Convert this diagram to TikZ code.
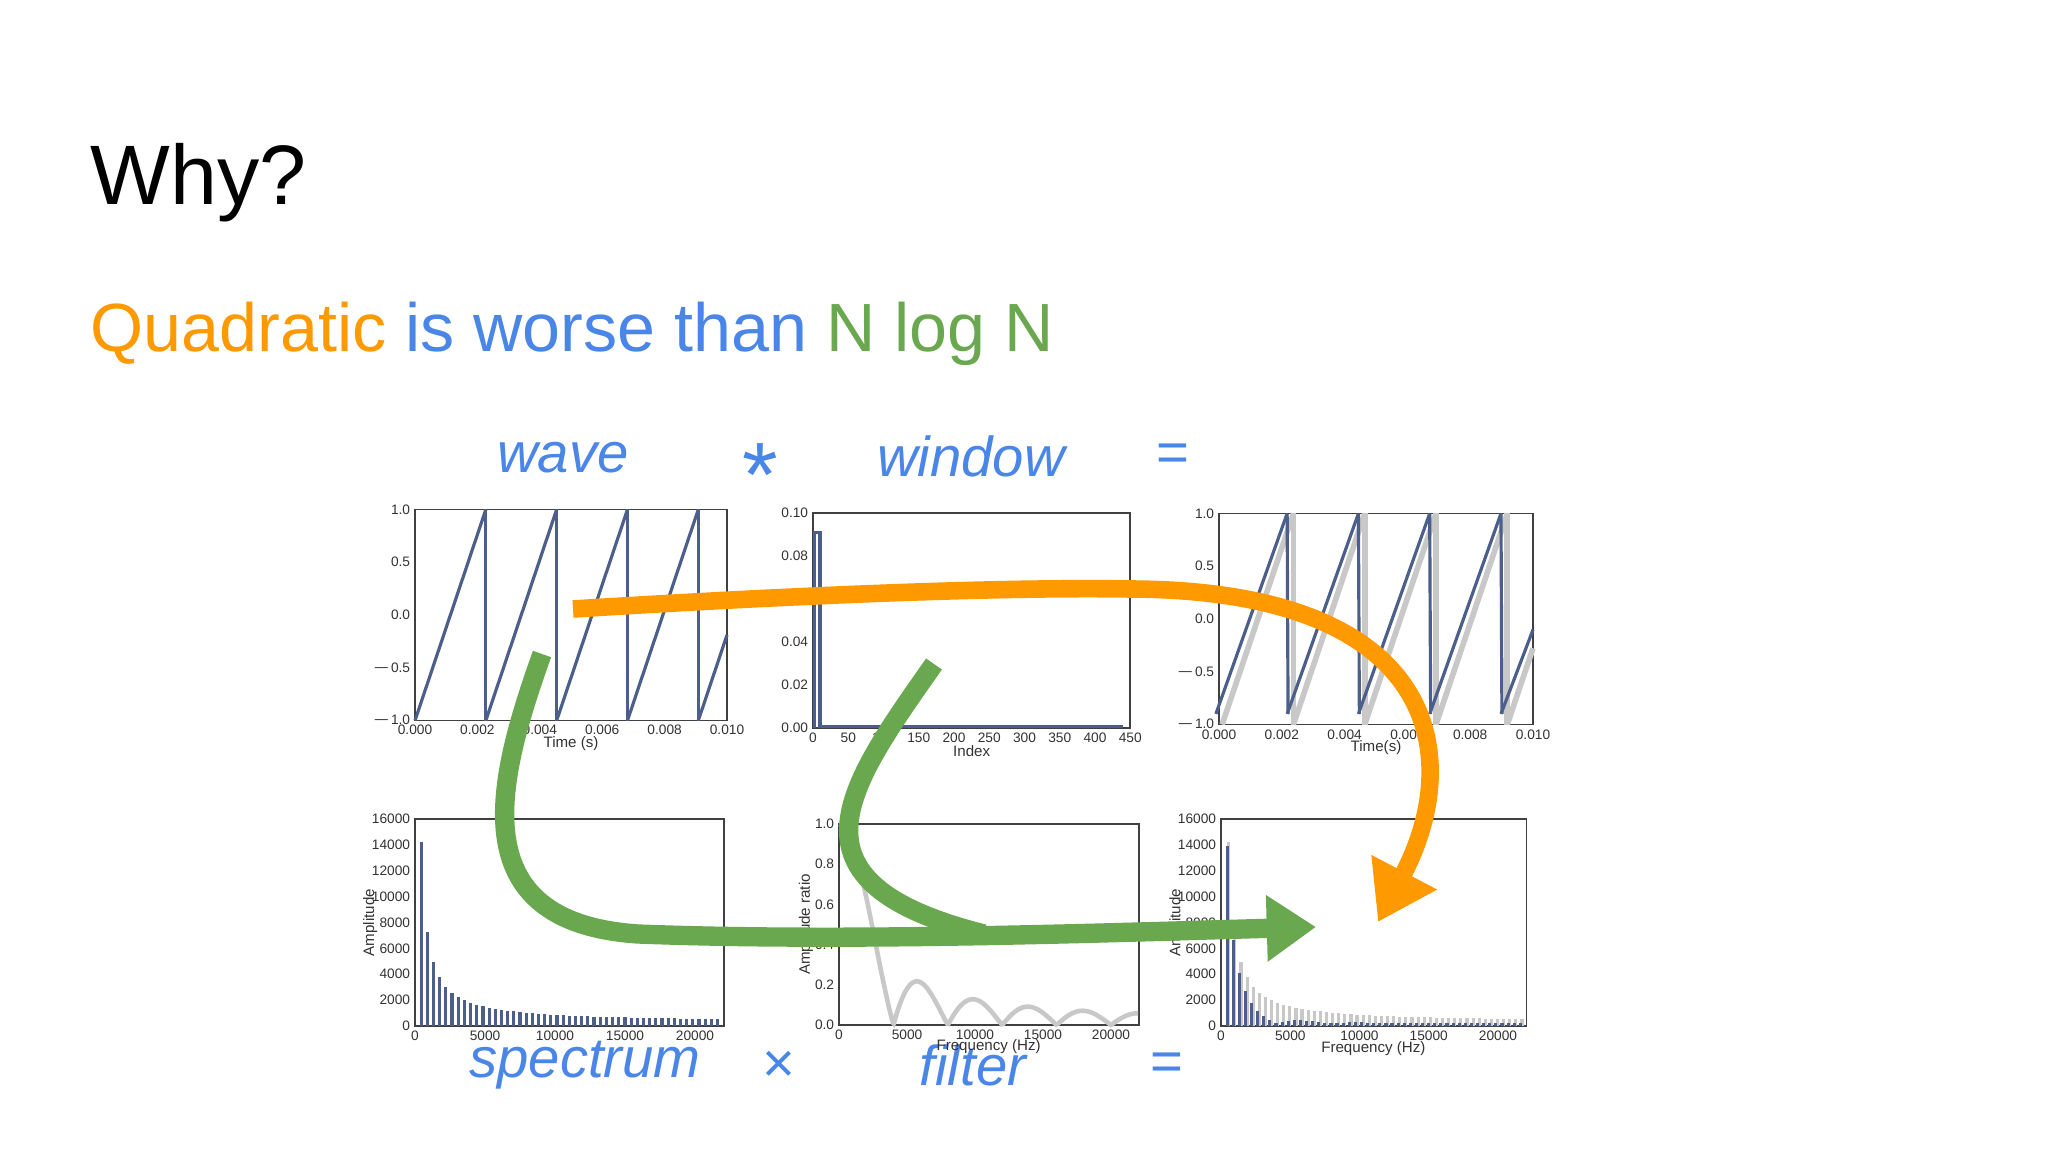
\documentclass[tikz,border=0pt]{standalone}
\usepackage{fontspec}
\setmainfont{Liberation Sans}
\usetikzlibrary{arrows.meta}
\definecolor{gorange}{HTML}{FF9900}
\definecolor{gblue}{HTML}{4A86E8}
\definecolor{ggreen}{HTML}{6AA84F}
\definecolor{pblue}{HTML}{4C5F8A}
\definecolor{pgray}{HTML}{C8C8C8}
\tikzset{
  tk/.style={font=\fontsize{3.9}{4.5}\selectfont, inner sep=1.2pt, text=black!80},
  lab/.style={font=\fontsize{4.3}{5}\selectfont, inner sep=1pt, text=black!80},
  frame/.style={draw=black!75, line width=0.5pt},
  curve/.style={pblue, line width=0.9pt},
  eqlab/.style={font=\fontsize{16}{19}\selectfont\itshape, text=gblue},
  oplab/.style={font=\fontsize{16}{19}\selectfont, text=gblue},
  oarrow/.style={gorange, line width=5pt, -{Triangle[length=16pt,width=20pt]}},
  garrow/.style={ggreen, line width=5.5pt, -{Triangle[length=14pt,width=18pt]}},
  gline/.style={ggreen, line width=5.5pt},
  bar/.style={line width=0.9pt},
}
\begin{document}
\begin{tikzpicture}[x=0.01cm,y=-0.01cm]
\useasboundingbox (0,0) rectangle (2048,1152);
\fill[white] (0,0) rectangle (2048,1152);
\node[anchor=base west, inner sep=0, font=\fontsize{24}{28}\selectfont] (title) at (90,205) {Why?};
\node[anchor=base west, inner sep=0, font=\fontsize{19.4}{23}\selectfont] (sub) at (90,352)
 {\textcolor{gorange}{Quadratic} \textcolor{gblue}{is worse than} \textcolor{ggreen}{N log N}};
\node[eqlab] (wave) at (563,458) {wave};
\node[oplab, font=\fontsize{26}{30}\selectfont] (star) at (760,475) {*};
\node[eqlab] (window) at (971,456) {window};
\node[oplab] (eq1) at (1173,458) {=};
\node[eqlab] (spectrum) at (585,1065) {spectrum};
\node[oplab] (times) at (779,1067) {×};
\node[eqlab] (filter) at (973,1065) {filter};
\node[oplab] (eq2) at (1167,1067) {=};

% P1 wave
\begin{scope}[shift={(415,615)}, xscale=31.2, yscale=-105.5]
 \draw[frame] (0,-1) rectangle (10,1);
 \foreach \k in {0,...,4} {\draw[curve] (2.27*\k,-1) -- ({min(2.27*(\k+1),10)},{min(1,-1+2*(10-2.27*\k)/2.27)});
   \ifnum\k<4 \draw[curve] (2.27*\k+2.27,1) -- (2.27*\k+2.27,-1);\fi}
 \foreach \v/\t in {0/0.000,2/0.002,4/0.004,6/0.006,8/0.008,10/0.010} \node[tk,anchor=north] at (\v,-1) {\t};
 \foreach \v/\t in {-1/$-$1.0,-0.5/$-$0.5,0/0.0,0.5/0.5,1/1.0} \node[tk,anchor=east] at (0,\v) {\t};
 \node[lab,anchor=north] at (5,-1.11) {Time (s)};
\end{scope}
% P2 window
\begin{scope}[shift={(813,728)}, xscale=0.705, yscale=-21.5]
 \draw[frame] (0,0) rectangle (450,10);
 \draw[curve] (2,0) -- (2,9.1) -- (10,9.1) -- (10,0.08) -- (440,0.08);
 \foreach \v in {0,50,...,450} \node[tk,anchor=north] at (\v,0) {\v};
 \foreach \v/\t in {0/0.00,2/0.02,4/0.04,6/0.06,8/0.08,10/0.10} \node[tk,anchor=east] at (0,\v) {\t};
 \node[lab,anchor=north] at (225,-0.6) {Index};
\end{scope}
% P3 result
\begin{scope}[shift={(1219,619)}, xscale=31.4, yscale=-105.5]
 \draw[frame] (0,-1) rectangle (10,1);
 \foreach \k in {0,...,4} {\draw[pgray, line width=1.6pt] ({2.27*\k+0.1},-1) -- ({min(2.27*(\k+1)+0.1,10)},{min(1,-1+2*(9.9-2.27*\k)/2.27)});
   \ifnum\k<4 \draw[pgray, line width=1.6pt] (2.27*\k+2.37,1) -- (2.27*\k+2.37,-1);\fi}
 \foreach \k in {0,...,4} {\draw[curve] ({2.27*\k-0.1},-0.9) -- ({min(2.27*(\k+1)-0.1,10)},{min(1,-1+2*(10.1-2.27*\k)/2.27)});
   \ifnum\k<4 \draw[curve] (2.27*\k+2.17,1) -- (2.27*\k+2.2,-0.9);\fi}
 \foreach \v/\t in {0/0.000,2/0.002,4/0.004,6/0.006,8/0.008,10/0.010} \node[tk,anchor=north] at (\v,-1) {\t};
 \foreach \v/\t in {-1/$-$1.0,-0.5/$-$0.5,0/0.0,0.5/0.5,1/1.0} \node[tk,anchor=east] at (0,\v) {\t};
 \node[lab,anchor=north] at (5,-1.11) {Time(s)};
\end{scope}
% P4 spectrum
\begin{scope}[shift={(415,1026)}, xscale=14.0, yscale=-12.94]
 \draw[frame] (0,0) rectangle (22.05,16);
 \foreach \k in {1,...,49} \draw[pblue, bar] (0.441*\k,0) -- (0.441*\k,{14/\k+0.25});
 \foreach \v/\t in {0/0,5/5000,10/10000,15/15000,20/20000} \node[tk,anchor=north] at (\v,0) {\t};
 \foreach \v in {0,2,...,16} \node[tk,anchor=east] at (0,\v) {\the\numexpr\v*1000\relax};
 \node[lab,rotate=90,anchor=south] at (-2.4,8) {Amplitude};
\end{scope}
% P5 filter
\begin{scope}[shift={(839,1025)}, xscale=13.6, yscale=-201]
 \draw[frame] (0,0) rectangle (22.05,1);
 \draw[pgray, line width=1.3pt] plot[domain=0.01:22, samples=220, smooth] (\x,{abs(sin(45*\x))/(0.785398*\x)});
 \foreach \v/\t in {0/0,5/5000,10/10000,15/15000,20/20000} \node[tk,anchor=north] at (\v,0) {\t};
 \foreach \v/\t in {0/0.0,0.2/0.2,0.4/0.4,0.6/0.6,0.8/0.8,1/1.0} \node[tk,anchor=east] at (0,\v) {\t};
 \node[lab,anchor=north] at (11,-0.05) {Frequency (Hz)};
 \node[lab,rotate=90,anchor=south] at (-1.6,0.5) {Amplitude ratio};
\end{scope}
% P6 product
\begin{scope}[shift={(1221,1026)}, xscale=13.85, yscale=-12.94]
 \draw[frame] (0,0) rectangle (22.05,16);
 \foreach \k in {1,...,49} \draw[pgray, bar] (0.441*\k+0.12,0) -- (0.441*\k+0.12,{14/\k+0.25});
 \foreach \k in {1,...,49} \draw[pblue, bar] (0.441*\k,0) -- (0.441*\k,{14/\k*abs(sin(45*0.441*\k))/(0.785398*0.441*\k)+0.2});
 \foreach \v/\t in {0/0,5/5000,10/10000,15/15000,20/20000} \node[tk,anchor=north] at (\v,0) {\t};
 \foreach \v in {0,2,...,16} \node[tk,anchor=east] at (0,\v) {\the\numexpr\v*1000\relax};
 \node[lab,anchor=north] at (11,-0.9) {Frequency (Hz)};
 \node[lab,rotate=90,anchor=south] at (-2.4,8) {Amplitude};
\end{scope}

% connectors
\coordinate (oS) at (573,609);
\coordinate (oM) at (1130,589);
\coordinate (oE) at (1378,922);
\coordinate (g1S) at (542,654);
\coordinate (g1M) at (638,934);
\coordinate (g1E) at (1316,927);
\coordinate (g2S) at (934,664);
\coordinate (g2E) at (984,934);
\draw[oarrow] (oS) .. controls (800,595) and (1000,587) .. (oM) .. controls (1440,590) and (1465,757) .. (oE);
\draw[gline] (g2S) .. controls (847,788) and (777,882) .. (g2E);
\draw[garrow] (g1S) .. controls (498,778) and (458,922) .. (g1M) .. controls (848,942) and (1098,933) .. (g1E);
\end{tikzpicture}
\end{document}
